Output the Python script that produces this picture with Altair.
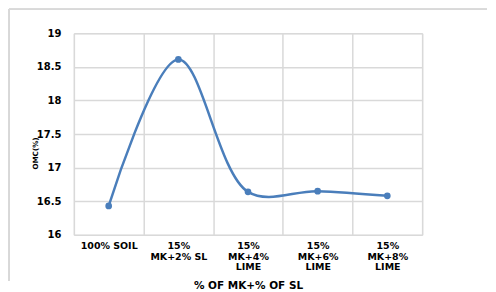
import altair as alt
import pandas as pd

categories = ["100% SOIL", "15% MK+2% SL", "15% MK+4% LIME", "15% MK+6% LIME", "15% MK+8% LIME"]
label_lines = ["100% SOIL", "15%|MK+2% SL", "15%|MK+4%|LIME", "15%|MK+6%|LIME", "15%|MK+8%|LIME"]
omc = [16.43, 18.61, 16.64, 16.65, 16.58]
y_ticks = [16, 16.5, 17, 17.5, 18, 18.5, 19]

df = pd.DataFrame({"cat": label_lines, "omc": omc})

FONT = "DejaVu Sans"
GRID = "#d9d9d9"
x = alt.X("cat:N", sort=label_lines, scale=alt.Scale(paddingInner=0, paddingOuter=0),
          axis=alt.Axis(title="% OF MK+% OF SL", labelAngle=0, labelExpr="split(datum.label, '|')",
                        labelFont=FONT, labelFontWeight="bold", labelFontSize=9.5, labelColor="black",
                        labelLineHeight=10.5, labelPadding=6, labelBaseline="top",
                        titleFont=FONT, titleFontWeight="bold", titleFontSize=10.5, titleColor="black",
                        titleY=51, titleBaseline="middle",
                        domain=False, ticks=False, tickBand="extent",
                        grid=True, gridColor=GRID, gridWidth=1.5))
y = alt.Y("omc:Q", scale=alt.Scale(domain=[16, 19], nice=False, zero=False),
          axis=alt.Axis(title="OMC(%)", values=y_ticks, tickCount=7, format="~g", labelOverlap=False,
                        labelFont=FONT, labelFontWeight="bold",
                        labelFontSize=10, labelColor="black", labelPadding=13,
                        titleFont=FONT, titleFontWeight="bold", titleFontSize=7.2, titleColor="black",
                        titleX=-38, titleY=120, titleAngle=-90, titleBaseline="middle",
                        domain=False, ticks=False, grid=True, gridColor=GRID, gridWidth=1.5))

base = alt.Chart(df).encode(x=x, y=y)
line = base.mark_line(interpolate="catmull-rom", color="#4a7ebb", strokeWidth=2.5)
pts = base.mark_point(filled=True, color="#4a7ebb", size=45, opacity=1, shape="circle")

border_top = alt.Chart(df).mark_rule(color=GRID, strokeWidth=1.5).encode(
    x=alt.value(-65), x2=alt.value(414), y=alt.value(-24))
border_left = alt.Chart(df).mark_rule(color=GRID, strokeWidth=1.5).encode(
    x=alt.value(-65), y=alt.value(-24), y2=alt.value(248))

chart = alt.layer(line, pts, border_top, border_left).properties(
    width=349, height=202, padding=0
).configure_view(stroke=GRID, strokeWidth=1.5).configure(background="white")

chart.save("out.html", embed_options={"renderer": "svg", "actions": False})
